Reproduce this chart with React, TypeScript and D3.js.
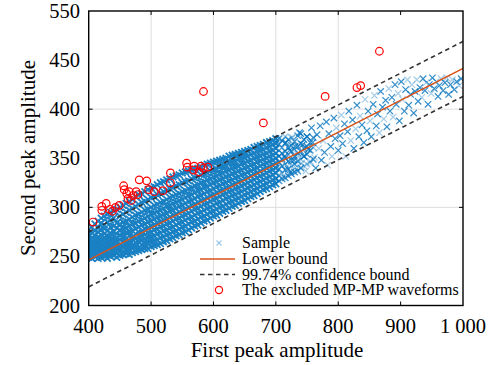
import React from "react";
import * as d3 from "d3";

const xTicks = [400, 500, 600, 700, 800, 900, 1000];
const xTickLabels = ["400", "500", "600", "700", "800", "900", "1 000"];
const yTicks = [200, 250, 300, 350, 400, 450, 500];
const yTickLabels = ["200", "250", "300", "350", "400", "450", "550"];
const xGrid = [500, 600, 700, 800];
const yGrid = [300, 400];

// Dense part of the sample cloud: each row = [x, y1, y2, ...]
const sampleColumns: number[][] = [
  [400, 249, 253, 256, 259, 263, 266, 270, 273, 277],
  [405, 248, 251, 255, 258, 262, 265, 269, 274, 280],
  [410, 250, 253, 257, 260, 263, 267, 271, 276, 283],
  [415, 248, 252, 255, 259, 262, 266, 270, 275, 279, 286],
  [420, 249, 251, 256, 260, 264, 267, 272, 277, 284, 289],
  [425, 250, 254, 257, 261, 264, 269, 273, 278, 282, 291],
  [430, 248, 252, 256, 259, 263, 267, 271, 276, 285, 293],
  [435, 250, 253, 258, 262, 266, 270, 274, 280, 287, 295],
  [440, 251, 255, 258, 263, 265, 270, 275, 281, 289, 296],
  [445, 249, 253, 257, 261, 265, 269, 273, 279, 284, 298],
  [450, 251, 256, 259, 262, 267, 272, 277, 283, 291, 300],
  [455, 252, 255, 260, 265, 269, 273, 278, 285, 293, 302],
  [460, 253, 257, 261, 264, 268, 274, 279, 286, 295, 304],
  [465, 252, 256, 262, 266, 271, 275, 281, 288, 297, 306],
  [470, 254, 258, 261, 267, 270, 276, 283, 290, 299, 308],
  [475, 255, 260, 264, 268, 273, 278, 284, 292, 301, 311],
  [480, 256, 259, 265, 270, 275, 280, 286, 293, 303, 313],
  [485, 257, 262, 266, 271, 276, 282, 287, 295, 305, 314],
  [490, 258, 263, 268, 272, 278, 283, 289, 297, 306, 316],
  [495, 258, 264, 269, 274, 279, 285, 291, 298, 308, 318],
  [500, 260, 265, 270, 275, 281, 286, 293, 300, 310, 320],
  [505, 261, 266, 271, 277, 282, 288, 294, 302, 311, 321],
  [510, 262, 267, 273, 278, 284, 290, 296, 303, 313, 323],
  [515, 263, 269, 274, 280, 285, 291, 297, 305, 314, 325],
  [520, 265, 270, 276, 281, 287, 293, 299, 306, 316, 326],
  [525, 266, 272, 277, 283, 288, 294, 301, 308, 317, 328],
  [530, 268, 273, 279, 284, 290, 296, 302, 310, 319, 329],
  [535, 269, 275, 280, 286, 292, 297, 304, 311, 320, 331],
  [540, 271, 276, 282, 288, 293, 299, 305, 313, 322, 332],
  [545, 272, 278, 284, 289, 295, 301, 307, 314, 323, 333],
  [550, 274, 280, 285, 291, 297, 302, 308, 316, 325, 335],
  [555, 275, 281, 287, 292, 298, 304, 310, 317, 326, 336],
  [560, 277, 283, 289, 294, 300, 306, 312, 319, 327, 337],
  [565, 279, 285, 290, 296, 302, 307, 313, 320, 329, 338],
  [570, 281, 286, 292, 298, 303, 309, 315, 322, 330, 339],
  [575, 282, 288, 294, 299, 305, 311, 317, 323, 331, 340],
  [580, 284, 290, 295, 301, 307, 312, 318, 325, 333, 341],
  [585, 286, 291, 297, 303, 308, 314, 320, 326, 334, 343],
  [590, 287, 293, 299, 304, 310, 316, 321, 328, 335, 344],
  [595, 289, 295, 300, 306, 312, 317, 323, 329, 337, 345],
  [600, 291, 296, 302, 308, 313, 319, 325, 331, 338, 346],
  [605, 292, 298, 304, 309, 315, 321, 326, 332, 339, 347],
  [610, 294, 300, 305, 311, 317, 322, 328, 334, 341, 348],
  [615, 296, 301, 307, 313, 318, 324, 329, 335, 342, 349],
  [620, 297, 303, 309, 314, 320, 325, 331, 337, 343, 350],
  [625, 299, 305, 310, 316, 321, 327, 332, 338, 345, 352],
  [630, 301, 306, 312, 317, 323, 328, 334, 340, 346, 353],
  [635, 302, 308, 313, 319, 324, 330, 335, 341, 347, 354],
  [640, 304, 309, 315, 320, 326, 331, 337, 342, 349, 355],
  [645, 306, 311, 316, 322, 327, 333, 338, 344, 350, 356],
  [650, 307, 313, 318, 323, 329, 334, 340, 345, 351, 357],
  [655, 309, 314, 320, 325, 330, 336, 341, 347, 352, 358],
  [660, 311, 316, 321, 327, 332, 337, 343, 348, 354, 359],
  [665, 312, 318, 323, 328, 334, 339, 344, 350, 355, 361],
  [670, 314, 319, 325, 330, 335, 340, 346, 351, 357, 362],
  [675, 316, 321, 326, 332, 337, 342, 347, 352, 358, 363],
  [680, 318, 323, 328, 333, 339, 344, 349, 354, 359, 364],
  [685, 319, 324, 330, 335, 340, 345, 350, 355, 361, 366],
  [690, 321, 326, 331, 337, 342, 347, 352, 357, 362, 367],
  [695, 323, 328, 333, 338, 343, 348, 353, 358, 364, 368],
  [700, 324, 329, 335, 340, 345, 350, 355, 360, 365, 370],
];

// Thinning part of the cloud: each row = [x, y1, y2, ...]
const transitionColumns: number[][] = [
  [705, 327, 333, 339, 346, 352, 358, 364, 370],
  [710, 329, 335, 342, 349, 355, 361, 368],
  [715, 330, 338, 344, 350, 357, 365, 372],
  [720, 332, 339, 347, 354, 361, 369],
  [725, 334, 342, 348, 357, 363, 371],
  [730, 336, 344, 352, 359, 367],
  [735, 337, 347, 354, 362, 373],
  [740, 340, 349, 357, 365, 375],
  [745, 342, 352, 360, 369],
  [750, 344, 354, 362, 372],
  [755, 347, 358, 366],
  [760, 349, 361, 371],
];

// Sparse part of the sample cloud
const sparseX = [712, 714, 716, 718, 722, 724, 727, 729, 731, 734, 736, 738, 741, 743, 745, 748, 750, 752, 755, 757, 759, 762, 764, 766, 769, 771, 773, 776, 778, 781, 783, 785, 788, 790, 793, 795, 797, 800, 803, 805, 807, 810, 812, 815, 817, 820, 823, 825, 828, 830, 833, 835, 838, 841, 843, 846, 848, 851, 853, 856, 858, 861, 863, 866, 868, 871, 873, 876, 878, 881, 883, 886, 888, 891, 893, 896, 898, 901, 903, 906, 908, 911, 913, 916, 918, 921, 923, 926, 928, 931, 934, 936, 939, 941, 944, 946, 949, 951, 954, 957, 960, 962, 965, 968, 971, 974, 977, 980, 983, 986, 990, 994, 997];
const sparseY = [331, 352, 366, 342, 358, 336, 371, 348, 362, 339, 355, 376, 345, 364, 352, 337, 372, 359, 345, 381, 366, 351, 340, 374, 360, 383, 348, 368, 356, 387, 343, 375, 362, 352, 391, 370, 381, 358, 373, 394, 365, 385, 352, 377, 398, 368, 389, 360, 380, 404, 372, 393, 384, 366, 410, 378, 398, 388, 372, 405, 414, 383, 395, 376, 418, 402, 390, 409, 382, 421, 398, 412, 392, 425, 405, 416, 388, 428, 410, 398, 420, 430, 404, 415, 425, 396, 418, 430, 408, 422, 412, 431, 419, 427, 405, 425, 416, 432, 421, 428, 413, 424, 431, 419, 427, 432, 415, 425, 430, 420, 428, 424, 431];

const excludedX = [407, 421, 428, 421, 434, 438, 443, 449, 456, 457, 461, 465, 463, 468, 471, 476, 479, 481, 493, 496, 505, 519, 531, 531, 557, 558, 569, 568, 580, 584, 591, 577, 584, 680, 779, 830, 836, 866];
const excludedY = [285, 301, 304, 297, 298, 296, 300, 302, 322, 318, 314, 316, 309, 307, 312, 316, 313, 328, 327, 318, 316, 317, 335, 325, 345, 341, 342, 338, 342, 340, 341, 336, 418, 386, 413, 422, 424, 459];

const lowerBoundX = [400, 1000];
const lowerBoundY = [246.5, 441.5];
const upperConfY = [275, 469];
const lowerConfY = [219, 413];

const legendLabels = ["Sample", "Lower bound", "99.74% confidence bound", "The excluded MP-MP waveforms"];

const W = 501;
const H = 365;
const FONT = "Liberation Serif";
const BLUE = "#0072BD";

function flatten(cols: number[][]): [number, number][] {
  const out: [number, number][] = [];
  cols.forEach((col) => {
    for (let i = 1; i < col.length; i++) out.push([col[0], col[i]]);
  });
  return out;
}

export default function App() {
  const x = d3.scaleLinear().domain([400, 1000]).range([88.7, 463]);
  const y = d3.scaleLinear().domain([200, 500]).range([305.5, 11]);
  const line = d3.line<[number, number]>().x((d) => x(d[0])).y((d) => y(d[1]));

  const dense = flatten(sampleColumns);
  const transition = flatten(transitionColumns);
  const sparse: [number, number][] = sparseX.map((v, i) => [v, sparseY[i]]);

  const toPts = (ys: number[]) => lowerBoundX.map((v, i) => [v, ys[i]] as [number, number]);
  const crossPath = (cx: number, cy: number, h: number) =>
    `M${cx - h},${cy - h}L${cx + h},${cy + h}M${cx - h},${cy + h}L${cx + h},${cy - h}`;

  const left = x(400), right = x(1000), top = y(500), bottom = y(200);
  const lx = 242;
  const ly = [248, 264, 279.5, 295];
  const ts = { fontFamily: FONT };

  return (
    <svg width={W} height={H} style={{ position: "absolute", left: 0, top: 0, background: "#fff", fontFamily: FONT }}>
      <defs>
        <clipPath id="plot">
          <rect x={left} y={top} width={right - left} height={bottom - top} />
        </clipPath>
      </defs>
      {xGrid.map((v) => (
        <line key={"gx" + v} x1={x(v)} x2={x(v)} y1={top} y2={bottom} stroke="#dedede" strokeWidth={1} />
      ))}
      {yGrid.map((v) => (
        <line key={"gy" + v} x1={left} x2={right} y1={y(v)} y2={y(v)} stroke="#dedede" strokeWidth={1} />
      ))}
      <g clipPath="url(#plot)">
        <path
          d={dense.map((p) => crossPath(x(p[0]), y(p[1]), 3.3)).join("")}
          stroke={BLUE}
          strokeOpacity={0.9}
          strokeWidth={1.8}
          fill="none"
        />
        {transition.map((p, i) => (
          <path
            key={"tr" + i}
            d={crossPath(x(p[0]), y(p[1]), 3.2)}
            stroke={BLUE}
            strokeOpacity={i % 4 === 1 ? 0.4 : 0.75}
            strokeWidth={1.4}
            fill="none"
          />
        ))}
        {sparse.map((p, i) => (
          <path
            key={"sp" + i}
            d={crossPath(x(p[0]), y(p[1]), 3.2)}
            stroke={BLUE}
            strokeOpacity={i % 3 === 0 ? 0.35 : 0.8}
            strokeWidth={1.2}
            fill="none"
          />
        ))}
        <path d={line(toPts(lowerBoundY)) || ""} stroke="#D95319" strokeWidth={1.3} fill="none" />
        <path d={line(toPts(upperConfY)) || ""} stroke="#333" strokeWidth={1.6} strokeDasharray="4.5 3.5" fill="none" />
        <path d={line(toPts(lowerConfY)) || ""} stroke="#333" strokeWidth={1.6} strokeDasharray="4.5 3.5" fill="none" />
        {excludedX.map((v, i) => (
          <circle key={"c" + i} cx={x(v)} cy={y(excludedY[i])} r={3.8} fill="none" stroke="#FF0000" strokeWidth={1.2} />
        ))}
      </g>
      <rect x={left} y={top} width={right - left} height={bottom - top} fill="none" stroke="#000" strokeWidth={1.4} />
      {xTicks.slice(1, -1).map((v) => (
        <g key={"tx" + v}>
          <line x1={x(v)} x2={x(v)} y1={bottom} y2={bottom - 4} stroke="#000" />
          <line x1={x(v)} x2={x(v)} y1={top} y2={top + 4} stroke="#000" />
        </g>
      ))}
      {yGrid.map((v) => (
        <g key={"ty" + v}>
          <line x1={left} x2={left + 4} y1={y(v)} y2={y(v)} stroke="#000" />
          <line x1={right} x2={right - 4} y1={y(v)} y2={y(v)} stroke="#000" />
        </g>
      ))}
      {xTicks.map((v, i) => (
        <text key={"lx" + v} x={x(v)} y={333} textAnchor="middle" fontSize={20.5} fill="#000" style={ts}>
          {xTickLabels[i]}
        </text>
      ))}
      {yTicks.map((v, i) => (
        <text key={"ly" + v} x={80} y={y(v) + 7} textAnchor="end" fontSize={20.5} fill="#000" style={ts}>
          {yTickLabels[i]}
        </text>
      ))}
      <text x={277} y={357} textAnchor="middle" fontSize={21} fill="#000" style={ts}>First peak amplitude</text>
      <text transform="translate(35,158) rotate(-90)" textAnchor="middle" fontSize={21} fill="#000" style={ts}>Second peak amplitude</text>
      <path d={crossPath(219, 243, 2.5)} stroke={BLUE} strokeOpacity={0.4} strokeWidth={1.1} fill="none" />
      <line x1={200} x2={235} y1={259} y2={259} stroke="#D95319" strokeWidth={1.3} />
      <line x1={200} x2={235} y1={274.5} y2={274.5} stroke="#333" strokeWidth={1.6} strokeDasharray="4.5 3.5" />
      <circle cx={219} cy={290} r={3.6} fill="none" stroke="#FF0000" strokeWidth={1.2} />
      {legendLabels.map((t, i) => (
        <text key={t} x={lx} y={ly[i]} fontSize={16} fill="#000" style={ts}>{t}</text>
      ))}
    </svg>
  );
}
